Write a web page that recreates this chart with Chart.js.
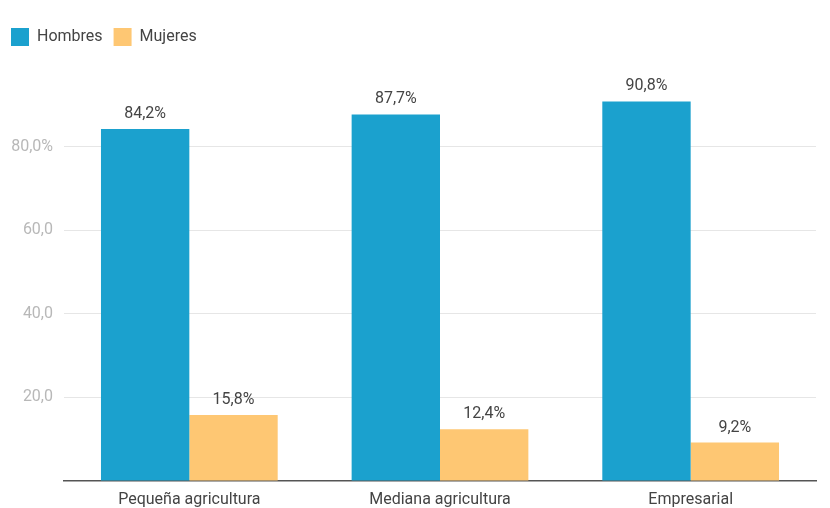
<!DOCTYPE html>
<html>
<head>
<meta charset="utf-8">
<script src="https://cdn.jsdelivr.net/npm/chart.js@4"></script>
<style>
  html, body { margin: 0; padding: 0; background: #fff; }
  #wrap { width: 830px; height: 508px; }
</style>
</head>
<body>
<div id="wrap"><canvas id="chart"></canvas></div>
<script>
const categories = ['Pequeña agricultura', 'Mediana agricultura', 'Empresarial'];
const hombres = [84.2, 87.7, 90.8];
const mujeres = [15.8, 12.4, 9.2];
const yTicks = [20, 40, 60, 80];

function formatPct(value) {
  return value.toFixed(1).replace('.', ',') + '%';
}

// Draws the value above each bar
const barLabels = {
  id: 'barLabels',
  afterDatasetsDraw(chart) {
    const ctx = chart.ctx;
    ctx.save();
    ctx.font = '16px Roboto';
    ctx.fillStyle = '#444';
    ctx.textAlign = 'center';
    ctx.textBaseline = 'alphabetic';
    chart.data.datasets.forEach((ds, i) => {
      chart.getDatasetMeta(i).data.forEach((bar, j) => {
        ctx.fillText(formatPct(ds.data[j]), bar.x, bar.y - 11);
      });
    });
    ctx.restore();
  }
};

// Extra room under the legend
const legendGap = {
  id: 'legendGap',
  afterInit(chart) {
    const fit = chart.legend.fit;
    chart.legend.fit = function () {
      fit.call(this);
      this.height += 7;
    };
  }
};

new Chart(document.getElementById('chart'), {
  type: 'bar',
  data: {
    labels: categories,
    datasets: [
      { label: 'Hombres', data: hombres, backgroundColor: '#1ba1ce' },
      { label: 'Mujeres', data: mujeres, backgroundColor: '#fec773' }
    ]
  },
  options: {
    responsive: true,
    maintainAspectRatio: false,
    animation: false,
    layout: { padding: { left: 0, right: 14, top: 17, bottom: 0 } },
    datasets: { bar: { categoryPercentage: 0.705, barPercentage: 1 } },
    plugins: {
      tooltip: { enabled: false },
      legend: {
        position: 'top',
        align: 'start',
        labels: {
          boxWidth: 18,
          boxHeight: 18,
          padding: 11,
          color: '#444',
          font: { family: 'Roboto', size: 16 }
        }
      }
    },
    scales: {
      x: {
        afterFit: s => { s.height = 27; },
        grid: { display: false },
        border: { color: '#555', width: 1.5 },
        ticks: { color: '#444', font: { family: 'Roboto', size: 16 }, padding: 1 }
      },
      y: {
        min: 0,
        max: 100,
        afterFit: s => { s.width = 64; },
        afterBuildTicks: s => { s.ticks = [0].concat(yTicks, [100]).map(v => ({ value: v })); },
        border: { display: false },
        grid: {
          drawTicks: false,
          color: c => (c.tick.value === 0 || c.tick.value === 100) ? 'rgba(0,0,0,0)' : '#e6e6e6'
        },
        ticks: {
          color: '#b8b8b8',
          padding: 11,
          font: { family: 'Roboto', size: 16 },
          callback: v => {
            const n = Math.round(v);
            if (n === 0 || n === 100) return '';
            const s = n.toFixed(1).replace('.', ',');
            return n === 80 ? s + '%' : s;
          }
        }
      }
    }
  },
  plugins: [barLabels, legendGap]
});
</script>
</body>
</html>
